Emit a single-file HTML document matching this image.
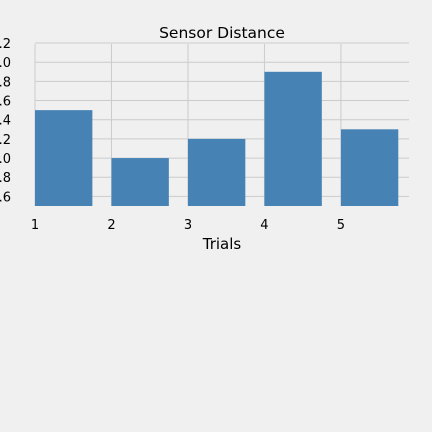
<!DOCTYPE html>
<html><head><meta charset="utf-8"><style>
html,body{margin:0;padding:0;background:#f0f0f0;overflow:hidden;width:432px;height:432px;}
svg{display:block;}
svg text{font-family:"DejaVu Sans","Liberation Sans",sans-serif;fill:#000;}
</style></head><body>
<svg id="c" width="432" height="432" xmlns="http://www.w3.org/2000/svg">
<rect width="432" height="432" fill="#f0f0f0"/>
<g id="grid"></g><g id="bars"></g><g id="labels"></g>
<text x="222" y="38" font-size="15.5" text-anchor="middle">Sensor Distance</text>
<text x="222" y="249" font-size="15" text-anchor="middle">Trials</text>
</svg>
<script>
const categories = [1, 2, 3, 4, 5];
const values = [2.5, 2.0, 2.2, 2.9, 2.3];
const yTicks = [1.6, 1.8, 2.0, 2.2, 2.4, 2.6, 2.8, 3.0, 3.2];
const yTickLabels = ["1.6", "1.8", "2.0", "2.2", "2.4", "2.6", "2.8", "3.0", "3.2"];
const xTickLabels = ["1", "2", "3", "4", "5"];
const NS = "http://www.w3.org/2000/svg";
const L = 35, R = 409, T = 44, B = 206;
const xMin = 1, xMax = 5.89, yMin = 1.5, yMax = 3.19;
const xs = v => L + (v - xMin) / (xMax - xMin) * (R - L);
const ys = v => B - (v - yMin) / (yMax - yMin) * (B - T);
const grid = document.getElementById('grid'), bars = document.getElementById('bars'), labels = document.getElementById('labels');
function mk(tag, attrs, parent) { const e = document.createElementNS(NS, tag); for (const k in attrs) e.setAttribute(k, attrs[k]); parent.appendChild(e); return e; }
yTicks.forEach((t, i) => {
  const y = ys(t);
  const g = mk('line', {x1: L, x2: R, y1: y, y2: y, stroke: '#cbcbcb', 'stroke-width': 1}, grid);
  
  
  const tx = mk('text', {x: 11, y: y + 5, 'font-size': 13, 'text-anchor': 'end'}, labels);
  tx.textContent = yTickLabels[i];
  
  
});
categories.forEach((c, i) => {
  const x = xs(c);
  const g = mk('line', {x1: x, x2: x, y1: T, y2: B, stroke: '#cbcbcb', 'stroke-width': 1}, grid);
  
  
  const w = xs(c + 0.75) - x;
  const b = mk('rect', {x: x, y: ys(values[i]), width: w, height: B - ys(values[i]), fill: '#4682b4'}, bars);
  
  
  const tx = mk('text', {x: x, y: 229, 'font-size': 13, 'text-anchor': 'middle'}, labels);
  tx.textContent = xTickLabels[i];
  
  
});
</script>
</body></html>
